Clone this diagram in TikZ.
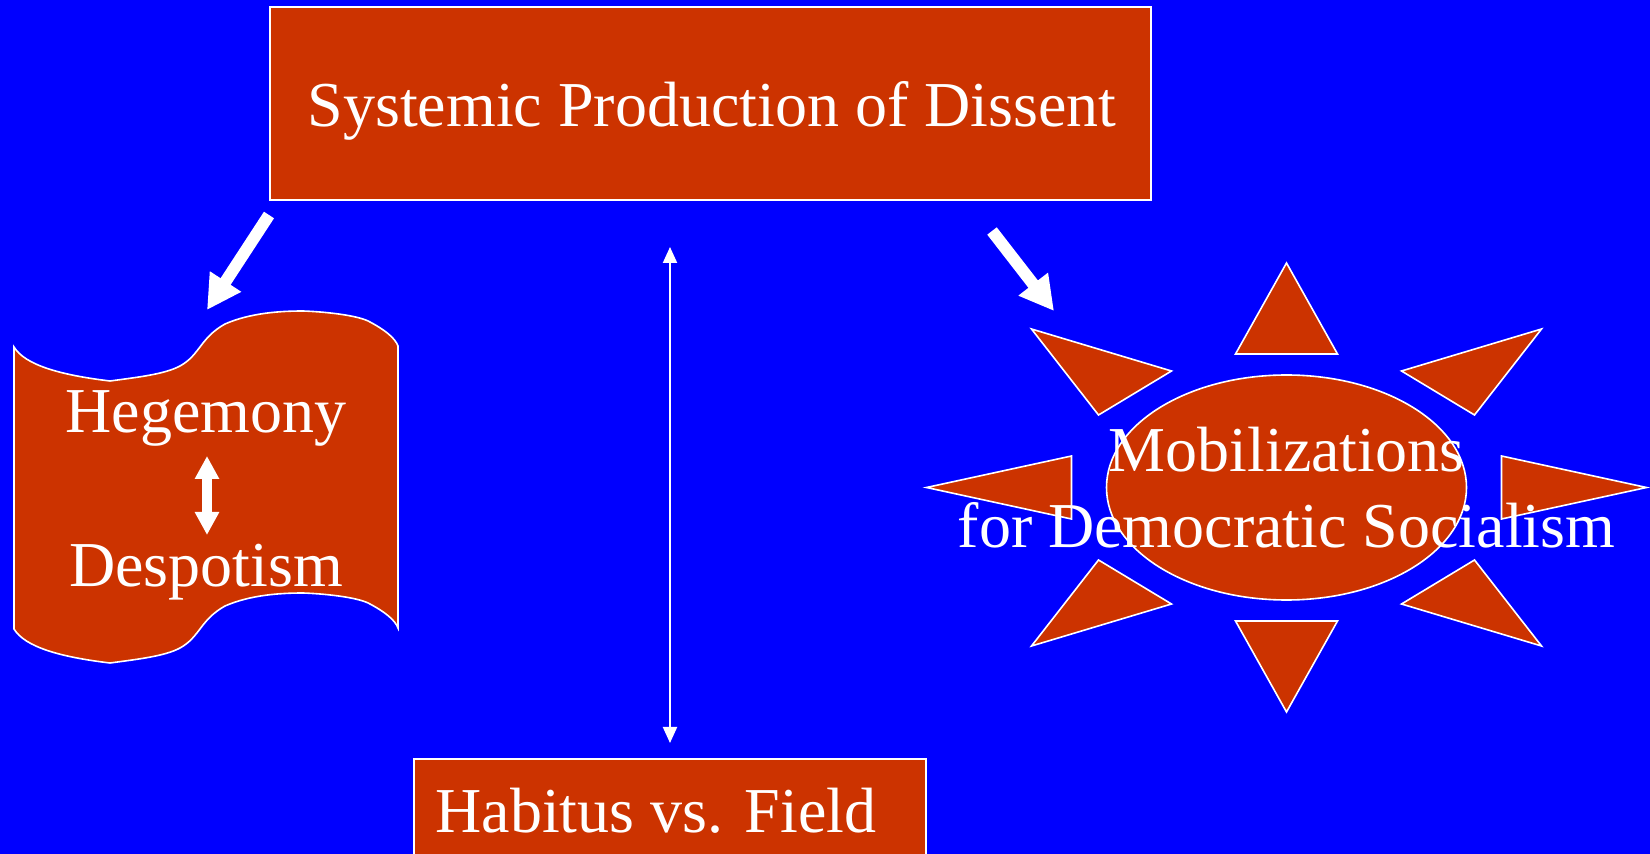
\documentclass[tikz,border=0pt]{standalone}
\usepackage{fontspec}
\setmainfont{Liberation Serif}
\usetikzlibrary{arrows.meta}
\definecolor{bg}{HTML}{0000FF}
\definecolor{brick}{HTML}{CC3300}
\begin{document}
\begin{tikzpicture}[x=0.5pt,y=-0.5pt,
  shapebox/.style={fill=brick,draw=white,line width=0.8pt},
  lbl/.style={text=white,inner sep=0pt,font=\fontsize{32}{38}\selectfont},
  blockarrow/.style={draw=white,line width=6pt,-{Triangle[length=17pt,width=17.5pt]}},
  thinarrow/.style={draw=white,line width=1pt,{Triangle[length=8pt,width=7pt]}-{Triangle[length=8pt,width=7pt]}},
  fatdouble/.style={draw=white,line width=5pt,{Triangle[length=11.5pt,width=11.5pt]}-{Triangle[length=11.5pt,width=11.5pt]}}
]
\fill[bg] (0,0) rectangle (1650,854);
\useasboundingbox (0,0) rectangle (1650,854);

% top box
\draw[shapebox] (270,7) rectangle (1151,200);
\node[lbl,anchor=base] (top) at (712,127) {Systemic Production of Dissent};

% bottom box
\draw[shapebox] (414,759) rectangle (926,870);
\node[lbl,anchor=base west] (hab) at (435,833) {Habitus vs. Field};

% scroll shape
\draw[shapebox] (14,347) .. controls (25,365) and (60,375) .. (110,381)
  .. controls (140,377) and (165,374) .. (180,366)
  .. controls (200,355) and (200,338) .. (225,324)
  .. controls (250,313) and (280,311) .. (303,311)
  .. controls (330,312) and (360,316) .. (370,322)
  .. controls (385,330) and (395,338) .. (398,346)
  -- (398,628)
  .. controls (395,620) and (385,612) .. (370,604)
  .. controls (360,598) and (330,594) .. (303,593)
  .. controls (280,593) and (250,595) .. (225,606)
  .. controls (200,620) and (200,637) .. (180,648)
  .. controls (165,656) and (140,659) .. (110,663)
  .. controls (60,657) and (25,647) .. (14,629) -- cycle;
\node[lbl,anchor=base] (hege) at (206,433) {Hegemony};
\node[lbl,anchor=base] (desp) at (206,587) {Despotism};
\coordinate (hd1) at (207,456);
\coordinate (hd2) at (207,535);
\draw[fatdouble] (hd1) -- (hd2);

% sun
\draw[shapebox] (1286.5,263) -- (1337.5,354) -- (1235.5,354) -- cycle;
\draw[shapebox] (1286.5,712) -- (1337.5,621) -- (1235.5,621) -- cycle;
\draw[shapebox] (926.5,487.5) -- (1071.5,456) -- (1071.5,519) -- cycle;
\draw[shapebox] (1646.5,487.5) -- (1501.5,456) -- (1501.5,519) -- cycle;
\draw[shapebox] (1031.5,329) -- (1171.5,371) -- (1098.5,415) -- cycle;
\draw[shapebox] (1541.5,329) -- (1401.5,371) -- (1474.5,415) -- cycle;
\draw[shapebox] (1031.5,646) -- (1171.5,604) -- (1098.5,560) -- cycle;
\draw[shapebox] (1541.5,646) -- (1401.5,604) -- (1474.5,560) -- cycle;
\draw[shapebox] (1286.5,487.5) ellipse [x radius=180, y radius=112.5];
\node[lbl,anchor=base] (mob1) at (1286.5,472) {Mobilizations};
\node[lbl,anchor=base] (mob2) at (1286.5,548) {for Democratic Socialism};

% arrows
\coordinate (a1s) at (269,215);
\coordinate (a1e) at (207,310);
\coordinate (a2s) at (992,231);
\coordinate (a2e) at (1054,311);
\coordinate (v1) at (670,247);
\coordinate (v2) at (670,743);
\draw[blockarrow] (a1s) -- (a1e);
\draw[blockarrow] (a2s) -- (a2e);
\draw[thinarrow] (v1) -- (v2);
\end{tikzpicture}
\end{document}
